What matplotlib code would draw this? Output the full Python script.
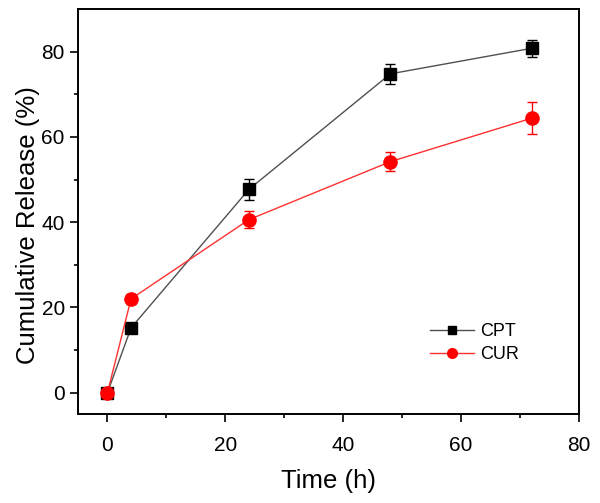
import numpy as np
from matplotlib import pyplot as plt
from matplotlib.lines import Line2D

plt.rcParams['font.family'] = ['Liberation Sans', 'DejaVu Sans']

time_h = [0, 4, 24, 48, 72]
cpt = [0, 15.2, 47.7, 74.8, 80.8]
cpt_err = [0.8, 0.8, 2.5, 2.4, 2.0]
cur = [0, 22.0, 40.6, 54.2, 64.4]
cur_err = [0.8, 1.2, 2.0, 2.3, 3.8]

fig = plt.figure(figsize=(6.0, 5.03), dpi=100)
ax = fig.add_axes([0.13, 0.177, 0.835, 0.805])

ax.errorbar(time_h, cpt, yerr=cpt_err, color='#505050', lw=1.0, marker='s', markersize=8.5,
            markerfacecolor='black', markeredgecolor='black', ecolor='black', elinewidth=1.0,
            capsize=3.3, capthick=1.0)
ax.errorbar(time_h, cur, yerr=cur_err, color='#ff3030', lw=1.0, marker='o', markersize=9.5,
            markerfacecolor='red', markeredgecolor='red', ecolor='red', elinewidth=1.0,
            capsize=3.3, capthick=1.0)

ax.set_xlim(-5, 80)
ax.set_ylim(-5, 90)
ax.set_xticks([0, 20, 40, 60, 80])
ax.set_xticks([10, 30, 50, 70], minor=True)
ax.set_yticks([0, 20, 40, 60, 80])
ax.set_yticks([10, 30, 50, 70], minor=True)
ax.tick_params(which='major', direction='out', length=6, width=1.2, labelsize=15)
ax.tick_params(which='minor', direction='out', length=3, width=1.2)
ax.tick_params(axis='x', which='major', pad=10)
for s in ax.spines.values():
    s.set_linewidth(1.4)

ax.set_xlabel('Time (h)', fontsize=18.5, labelpad=10)
ax.set_ylabel('Cumulative Release (%)', fontsize=18.5)
ax.yaxis.set_label_coords(-0.076, 0.467)

handles = [Line2D([], [], color='#505050', lw=1.0, marker='s', markersize=6,
                  markerfacecolor='black', markeredgecolor='black'),
           Line2D([], [], color='#ff3030', lw=1.0, marker='o', markersize=7,
                  markerfacecolor='red', markeredgecolor='red')]
ax.legend(handles, ['CPT', 'CUR'], loc='upper left', bbox_to_anchor=(0.671, 0.265),
          frameon=False, fontsize=13, handlelength=2.4, handletextpad=0.35,
          labelspacing=0.35)

plt.savefig('out.png', dpi=100)
